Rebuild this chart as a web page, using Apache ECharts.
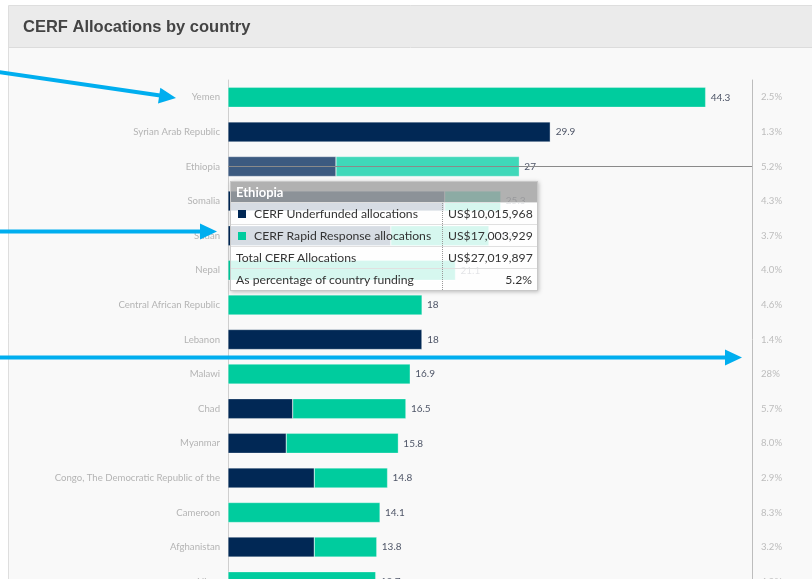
<!DOCTYPE html>
<html>
<head>
<meta charset="utf-8">
<script src="https://cdn.jsdelivr.net/npm/echarts@6/dist/echarts.min.js"></script>
<style>
  html, body { margin: 0; padding: 0; background: #fff; overflow: hidden; width: 812px; height: 579px; }
  #chart { position: absolute; left: 0; top: 0; width: 812px; height: 640px; }
</style>
</head>
<body>
<div id="chart"></div>
<script>
const countries = ['Yemen', 'Syrian Arab Republic', 'Ethiopia', 'Somalia', 'Sudan', 'Nepal',
  'Central African Republic', 'Lebanon', 'Malawi', 'Chad', 'Myanmar',
  'Congo, The Democratic Republic of the', 'Cameroon', 'Afghanistan', 'Niger'];
// US$ millions
const underfunded = [0, 29.9, 10.015968, 20.1, 15.1, 0, 0, 18, 0, 6.0, 5.4, 8.0, 0, 8.0, 0];
const rapidResponse = [44.3, 0, 17.003929, 5.2, 9.1, 21.1, 18, 0, 16.9, 10.5, 10.4, 6.8, 14.1, 5.8, 13.7];
// as percentage of country funding
const pctOfFunding = [2.5, 1.3, 5.2, 4.3, 3.7, 4.0, 4.6, 1.4, 28, 5.7, 8.0, 2.9, 8.3, 3.2, 4.9];

const NAVY = '#012855';
const TEAL = '#00cc9e';
const font = "Lato, 'Open Sans', sans-serif";

const fmtPct = v => (v >= 10 ? v.toFixed(0) : v.toFixed(1)) + '%';
const fmtUsd = v => 'US$' + Math.round(v * 1e6).toLocaleString('en-US');
const total = i => underfunded[i] + rapidResponse[i];

// annotation arrow (line + head)
function arrow(x1, y1, x2, y2) {
  const a = Math.atan2(y2 - y1, x2 - x1), L = 17, W = 8;
  const c = Math.cos(a), s = Math.sin(a);
  const bx = x2 - L * c, by = y2 - L * s;
  return [
    { type: 'line', z: 100, shape: { x1, y1, x2: bx + 1, y2: by }, style: { stroke: '#00aeef', lineWidth: 4 } },
    { type: 'polygon', z: 100, shape: { points: [[x2, y2], [bx - W * s, by + W * c], [bx + W * s, by - W * c]] },
      style: { fill: '#00aeef' } }
  ];
}

function tipHtml(i) {
  const base = 'font-family:' + font + ';font-size:12.2px;color:#333;';
  const td = base + 'padding:0 5px;height:21px;line-height:21px;border-top:1px solid #e0e0e0;background:rgba(255,255,255,0.84);white-space:nowrap;';
  const tdL = td + 'width:201px;';
  const tdR = td + 'text-align:right;border-left:1px dotted #999;';
  const sw = c => '<span style="display:inline-block;width:8px;height:8px;background:' + c + ';margin:0 8px 0 2px;"></span>';
  return '<div style="' + base + '">' +
    '<div style="background:rgba(165,165,165,0.85);color:#fff;font-weight:bold;font-size:13px;height:20px;line-height:20px;padding-left:5px;">' + countries[i] + '</div>' +
    '<table style="border-collapse:collapse;width:306px;table-layout:fixed;">' +
    '<tr><td style="' + tdL + '">' + sw(NAVY) + 'CERF Underfunded allocations</td><td style="' + tdR + '">' + fmtUsd(underfunded[i]) + '</td></tr>' +
    '<tr><td style="' + tdL + '">' + sw(TEAL) + 'CERF Rapid Response allocations</td><td style="' + tdR + '">' + fmtUsd(rapidResponse[i]) + '</td></tr>' +
    '<tr><td style="' + tdL + '">Total CERF Allocations</td><td style="' + tdR + '">' + fmtUsd(total(i)) + '</td></tr>' +
    '<tr><td style="' + tdL + '">As percentage of country funding</td><td style="' + tdR + '">' + fmtPct(pctOfFunding[i]) + '</td></tr>' +
    '</table></div>';
}

const chart = echarts.init(document.getElementById('chart'));

const option = {
  animation: false,
  title: {
    text: 'CERF Allocations by country',
    left: 18, top: 14,
    textStyle: { fontFamily: '"Liberation Sans", Arial, sans-serif', fontSize: 16.5, fontWeight: 'bold', color: '#444' }
  },
  graphic: {
    elements: [
      { type: 'rect', z: -10, shape: { x: 8.5, y: 5.5, width: 820, height: 700 }, style: { fill: '#f9f9f9', stroke: '#dedede', lineWidth: 1 } },
      { type: 'rect', z: -9, shape: { x: 9, y: 6, width: 820, height: 41 }, style: { fill: '#ebebeb' } },
      { type: 'line', z: -9, shape: { x1: 9, y1: 47.5, x2: 812, y2: 47.5 }, style: { stroke: '#dcdcdc', lineWidth: 1 } },
      ...arrow(-2, 72, 176, 98),
      ...arrow(-2, 231.5, 217, 231.5),
      ...arrow(-2, 357.5, 742, 357.5)
    ]
  },
  grid: { left: 228, right: 60, top: 80, bottom: 41 },
  tooltip: {
    trigger: 'axis',
    triggerOn: 'none',
    alwaysShowContent: true,
    transitionDuration: 0,
    position: [230, 181],
    padding: 0,
    borderWidth: 1,
    borderColor: '#c8c8c8',
    backgroundColor: 'rgba(255,255,255,0)',
    extraCssText: 'box-shadow:1px 1px 4px rgba(0,0,0,0.25);border-radius:0;overflow:hidden;',
    axisPointer: { type: 'line', z: 50, lineStyle: { color: '#8a8a8a', width: 1, type: 'solid' }, label: { show: false } },
    formatter: params => tipHtml(params[0].dataIndex)
  },
  xAxis: { type: 'value', min: 0, max: 48.6, show: false },
  yAxis: [{
    type: 'category',
    inverse: true,
    data: countries,
    position: 'left',
    axisLine: { lineStyle: { color: '#cfcfcf' } },
    axisTick: { length: 6, lineStyle: { color: '#cfcfcf' } },
    axisLabel: { color: '#b4b4b4', fontSize: 9.6, margin: 8, fontFamily: font }
  }, {
    type: 'category',
    inverse: true,
    data: countries,
    position: 'right',
    axisLine: { lineStyle: { color: '#bdbdbd' } },
    axisTick: { show: false },
    axisPointer: { show: false },
    axisLabel: { color: '#bdbdbd', fontSize: 9.6, margin: 9, fontFamily: font,
      formatter: (v, i) => fmtPct(pctOfFunding[i]) }
  }],
  series: [{
    name: 'CERF Underfunded allocations',
    type: 'bar',
    stack: 'total',
    barWidth: 20,
    data: underfunded,
    itemStyle: { color: NAVY, borderColor: 'rgba(255,255,255,0.6)', borderWidth: 0.5 },
    emphasis: { focus: 'none', itemStyle: { color: '#3c5a80' } }
  }, {
    name: 'CERF Rapid Response allocations',
    type: 'bar',
    stack: 'total',
    barWidth: 20,
    data: rapidResponse,
    itemStyle: { color: TEAL, borderColor: 'rgba(255,255,255,0.6)', borderWidth: 0.5 },
    emphasis: { focus: 'none', itemStyle: { color: '#3fd8b9' } },
    label: {
      show: true,
      position: 'right',
      distance: 5,
      color: '#4f5668',
      fontSize: 10,
      fontFamily: font,
      formatter: p => String(parseFloat(total(p.dataIndex).toFixed(1)))
    }
  }]
};

chart.setOption(option);
chart.dispatchAction({ type: 'highlight', seriesIndex: [0, 1], dataIndex: 2 });
chart.dispatchAction({ type: 'showTip', seriesIndex: 0, dataIndex: 2 });
</script>
</body>
</html>
